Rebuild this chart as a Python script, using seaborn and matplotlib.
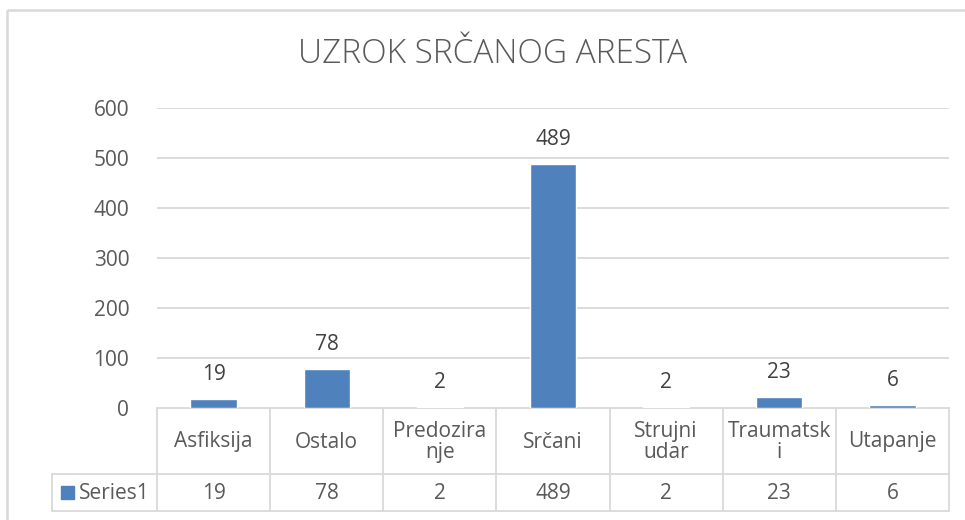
import matplotlib
matplotlib.use("Agg")
import matplotlib.pyplot as plt
import seaborn as sns
import pandas as pd

# data
categories = ["Asfiksija", "Ostalo", "Predozirane", "Srčani", "Strujni udar", "Traumatski", "Utapanje"]
header_labels = ["Asfiksija", "Ostalo", "Predozira\nnje", "Srčani", "Strujni\nudar", "Traumatsk\ni", "Utapanje"]
values = [19, 78, 2, 489, 2, 23, 6]
series_name = "Series1"
title = "UZROK SRČANOG ARESTA"
yticks = [0, 100, 200, 300, 400, 500, 600]

bar_color = "#4F81BD"
grid_color = "#d9d9d9"
text_color = "#595959"

sns.set_style("white")
plt.rcParams["font.family"] = ["Open Sans", "DejaVu Sans"]

W, H = 965, 520
fig = plt.figure(figsize=(W / 100, H / 100), dpi=100)

# pixel layout of the plot area
x0, x1 = 157, 949
y_top, y_bot = 108, 408
ax = fig.add_axes([x0 / W, 1 - y_bot / H, (x1 - x0) / W, (y_bot - y_top) / H])

df = pd.DataFrame({"cause": categories, "count": values})
sns.barplot(data=df, x="cause", y="count", color=bar_color, width=0.41,
            saturation=1, ax=ax)
ax.set_xlim(-0.5, len(categories) - 0.5)
ax.set_ylim(0, 600)
ax.set_yticks(yticks)
ax.set_yticklabels([str(t) for t in yticks], fontsize=15, color=text_color)
ax.tick_params(axis="y", length=0, pad=20)
ax.set_xticks([])
ax.set_xlabel("")
ax.set_ylabel("")
for s in ax.spines.values():
    s.set_visible(False)
ax.yaxis.grid(True, color=grid_color, lw=1.3)
ax.set_axisbelow(True)

for i, v in enumerate(values):
    ax.annotate(str(v), (i, v), xytext=(0, 10), textcoords="offset points",
                ha="center", va="bottom", fontsize=15, color="#404040")

# overlay in pixel coordinates for title, border and data table
ov = fig.add_axes([0, 0, 1, 1], zorder=-1)
ov.set_xlim(0, W)
ov.set_ylim(H, 0)
ov.axis("off")

ov.add_patch(plt.Rectangle((6.5, 9.5), 980, 530, fill=False, ec=grid_color, lw=1.8))
ov.text(493, 54, title, ha="center", va="center", fontsize=24, fontweight="light",
        color=text_color)

lw = 1.3
row_mid, row_bot = 474, 511
tab_left = 52
ov.plot([x0, x1], [y_bot, y_bot], color=grid_color, lw=lw)
ov.plot([tab_left, x1], [row_mid, row_mid], color=grid_color, lw=lw)
ov.plot([tab_left, x1], [row_bot, row_bot], color=grid_color, lw=lw)
ov.plot([tab_left, tab_left], [row_mid, row_bot], color=grid_color, lw=lw)
cw = (x1 - x0) / len(categories)
for k in range(len(categories) + 1):
    ov.plot([x0 + k * cw] * 2, [y_bot, row_bot], color=grid_color, lw=lw)

for k, (lab, v) in enumerate(zip(header_labels, values)):
    cx = x0 + (k + 0.5) * cw
    ov.text(cx, (y_bot + row_mid) / 2 + 1, lab, ha="center", va="center",
            fontsize=15, color=text_color, linespacing=1.05)
    ov.text(cx, (row_mid + row_bot) / 2 + 1, str(v), ha="center", va="center",
            fontsize=15, color=text_color)

ov.add_patch(plt.Rectangle((61, 486), 13, 13, color=bar_color))
ov.text(79, (row_mid + row_bot) / 2 + 1, series_name, ha="left", va="center",
        fontsize=15, color=text_color)

fig.savefig("out.png", dpi=100)
